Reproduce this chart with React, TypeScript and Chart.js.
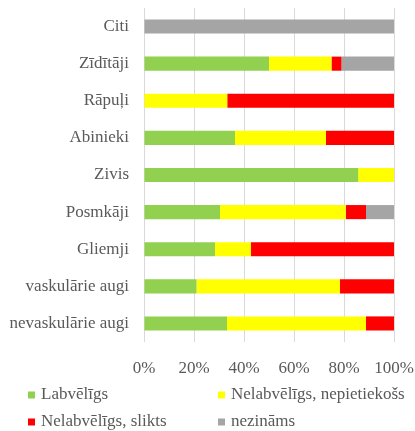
import React, { useEffect, useRef } from "react";
import { Chart, registerables } from "chart.js";

Chart.register(...registerables);

const categories = [
  "Citi",
  "Zīdītāji",
  "Rāpuļi",
  "Abinieki",
  "Zivis",
  "Posmkāji",
  "Gliemji",
  "vaskulārie augi",
  "nevaskulārie augi",
];

const seriesNames = [
  "Labvēlīgs",
  "Nelabvēlīgs, nepietiekošs",
  "Nelabvēlīgs, slikts",
  "nezināms",
];

const labvēlīgs = [0, 50, 0, 36.4, 85.7, 30.4, 28.4, 21, 33.2];
const nepietiekošs = [0, 25, 33.3, 36.4, 14.3, 50.3, 14.4, 57.4, 55.6];
const slikts = [0, 4, 66.7, 27.2, 0, 8.1, 57.2, 21.6, 11.2];
const nezināms = [100, 21, 0, 0, 0, 11.2, 0, 0, 0];

const xTicks = [0, 20, 40, 60, 80, 100];

const colors = ["#92D050", "#FFFF00", "#FF0000", "#A5A5A5"];

const FONT = "'Liberation Serif', 'Times New Roman', serif";
const FS = 17;

const legendPlugin = {
  id: "customLegend",
  afterDraw(chart: any) {
    const ctx = chart.ctx;
    const ds = chart.data.datasets;
    const pos = [
      { x: 28, y: 395 },
      { x: 218, y: 395 },
      { x: 28, y: 422 },
      { x: 218, y: 422 },
    ];
    ctx.save();
    ctx.font = `${FS}px ${FONT}`;
    ctx.textBaseline = "middle";
    ctx.textAlign = "left";
    ds.forEach((d: any, i: number) => {
      const p = pos[i];
      ctx.fillStyle = d.backgroundColor;
      ctx.fillRect(p.x, p.y - 3.5, 7, 7);
      ctx.fillStyle = "#595959";
      ctx.fillText(d.label, p.x + 13, p.y);
    });
    ctx.restore();
  },
};

export default function App() {
  const ref = useRef<HTMLCanvasElement>(null);
  useEffect(() => {
    document.body.style.margin = "0";
    const values = [labvēlīgs, nepietiekošs, slikts, nezināms];
    const chart = new Chart(ref.current!, {
      type: "bar",
      data: {
        labels: categories,
        datasets: seriesNames.map((name, i) => ({
          label: name,
          data: values[i],
          backgroundColor: colors[i],
          borderWidth: 0,
          categoryPercentage: 0.76,
          barPercentage: 0.5,
        })),
      },
      options: {
        indexAxis: "y",
        animation: false,
        responsive: false,
        maintainAspectRatio: false,
        layout: { padding: { left: 0, right: 21, top: 8, bottom: 49 } },
        plugins: {
          legend: { display: false },
          tooltip: { enabled: false },
        },
        scales: {
          x: {
            stacked: true,
            min: 0,
            max: 100,
            afterBuildTicks(scale: any) {
              scale.ticks = xTicks.map((v) => ({ value: v }));
            },
            afterFit(scale: any) {
              scale.height = 40;
              scale.paddingLeft = 0;
              scale.paddingRight = 0;
            },
            ticks: {
              padding: 16,
              color: "#595959",
              font: { family: FONT, size: FS },
              callback: (v: any) => `${v}%`,
            },
            grid: { color: "#D9D9D9", drawTicks: false, lineWidth: 1 },
            border: { display: false },
          },
          y: {
            stacked: true,
            afterFit(scale: any) {
              scale.width = 144;
              scale.paddingTop = 0;
              scale.paddingBottom = 0;
            },
            ticks: {
              padding: 15,
              color: "#595959",
              font: { family: FONT, size: FS },
            },
            grid: { display: false, drawTicks: false },
            border: { display: false },
          },
        },
      },
      plugins: [legendPlugin],
    });
    return () => chart.destroy();
  }, []);
  return (
    <div style={{ position: "absolute", left: 0, top: 0, width: 415, height: 431 }}>
      <canvas ref={ref} width={415} height={431} style={{ width: 415, height: 431 }} />
    </div>
  );
}
